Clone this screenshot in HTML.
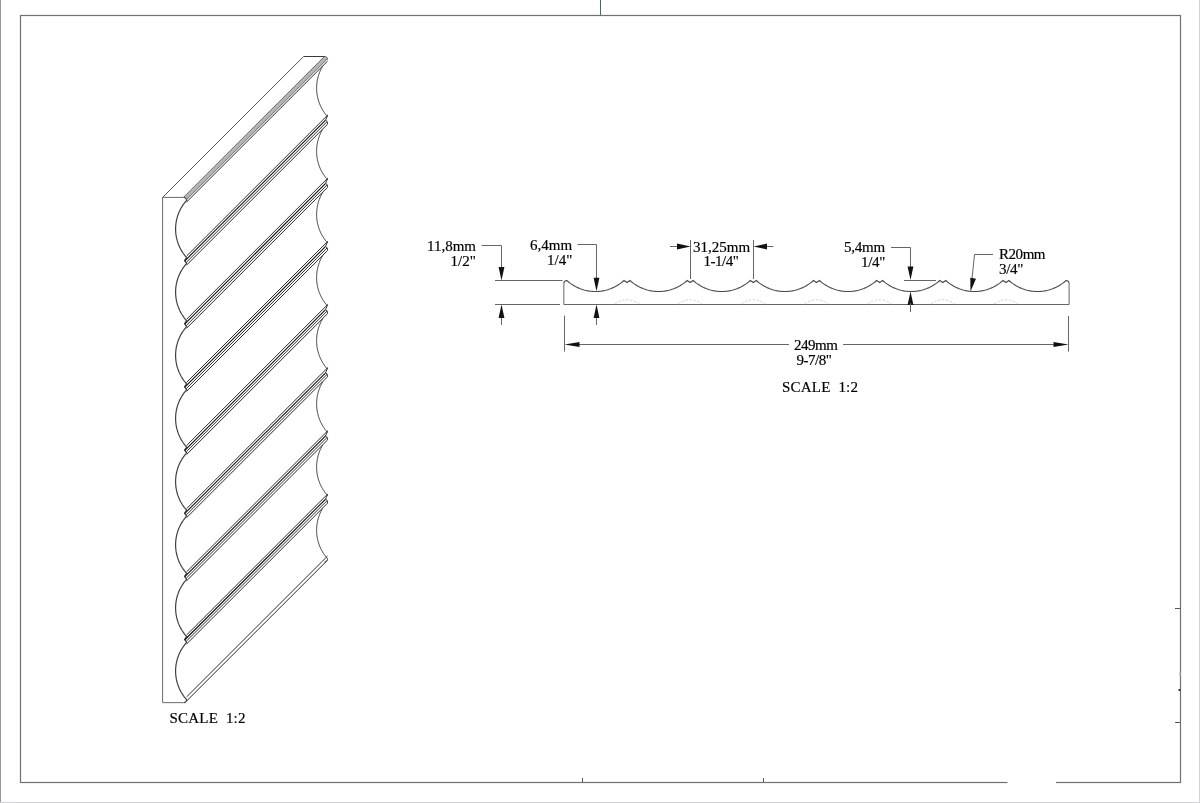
<!DOCTYPE html>
<html><head><meta charset="utf-8"><style>
html,body{margin:0;padding:0;background:#fff;}
body{width:1200px;height:803px;overflow:hidden;position:relative;}
svg{position:absolute;left:0;top:0;filter:grayscale(1);}
text{font-family:"Liberation Serif",serif;font-size:15px;fill:#000;stroke:#000;stroke-width:0.18px;}
</style></head><body>
<svg width="1200" height="803" viewBox="0 0 1200 803">
<rect x="0" y="0" width="1200" height="803" fill="#fff"/>
<rect x="20.5" y="15.5" width="1160" height="767" fill="none" stroke="#707070" stroke-width="1.2"/>
<line x1="582.5" y1="778" x2="582.5" y2="782" stroke="#555" stroke-width="1"/>
<line x1="763.5" y1="778" x2="763.5" y2="782" stroke="#555" stroke-width="1"/>
<line x1="1175" y1="608.5" x2="1180" y2="608.5" stroke="#555" stroke-width="1"/>
<line x1="1175" y1="722.5" x2="1180" y2="722.5" stroke="#555" stroke-width="1"/>
<rect x="1007.5" y="780" width="48.5" height="5" fill="#fff"/>
<rect x="1178.5" y="689" width="2" height="2" fill="#333"/>
<rect x="1179.5" y="672" width="1.2" height="4" fill="#aaa"/>
<polyline points="563.85,283.50 563.91,282.91 564.08,282.35 564.36,281.83 564.73,281.38 565.18,281.01 565.70,280.73 566.26,280.56 566.85,280.50 566.86,280.50 568.29,281.74 569.72,282.87 571.14,283.90 572.57,284.85 574.00,285.72 575.43,286.51 576.86,287.24 578.29,287.90 579.72,288.50 581.14,289.03 582.57,289.51 584.00,289.94 585.43,290.31 586.86,290.63 588.29,290.90 589.71,291.12 591.14,291.28 592.57,291.40 594.00,291.48 595.43,291.50 596.86,291.48 598.29,291.40 599.71,291.28 601.14,291.12 602.57,290.90 604.00,290.63 605.43,290.31 606.86,289.94 608.28,289.51 609.71,289.03 611.14,288.50 612.57,287.90 614.00,287.24 615.43,286.51 616.86,285.72 618.28,284.85 619.71,283.90 621.14,282.87 622.57,281.74 624.00,280.50 627.01,282.50 630.02,280.50 631.44,281.74 632.87,282.87 634.30,283.90 635.73,284.85 637.16,285.72 638.59,286.51 640.01,287.24 641.44,287.90 642.87,288.50 644.30,289.03 645.73,289.51 647.16,289.94 648.59,290.31 650.01,290.63 651.44,290.90 652.87,291.12 654.30,291.28 655.73,291.40 657.16,291.48 658.58,291.50 660.01,291.48 661.44,291.40 662.87,291.28 664.30,291.12 665.73,290.90 667.16,290.63 668.58,290.31 670.01,289.94 671.44,289.51 672.87,289.03 674.30,288.50 675.73,287.90 677.15,287.24 678.58,286.51 680.01,285.72 681.44,284.85 682.87,283.90 684.30,282.87 685.73,281.74 687.15,280.50 690.16,282.50 693.17,280.50 694.60,281.74 696.03,282.87 697.46,283.90 698.89,284.85 700.31,285.72 701.74,286.51 703.17,287.24 704.60,287.90 706.03,288.50 707.46,289.03 708.88,289.51 710.31,289.94 711.74,290.31 713.17,290.63 714.60,290.90 716.03,291.12 717.46,291.28 718.88,291.40 720.31,291.48 721.74,291.50 723.17,291.48 724.60,291.40 726.03,291.28 727.45,291.12 728.88,290.90 730.31,290.63 731.74,290.31 733.17,289.94 734.60,289.51 736.03,289.03 737.45,288.50 738.88,287.90 740.31,287.24 741.74,286.51 743.17,285.72 744.60,284.85 746.02,283.90 747.45,282.87 748.88,281.74 750.31,280.50 753.32,282.50 756.33,280.50 757.76,281.74 759.18,282.87 760.61,283.90 762.04,284.85 763.47,285.72 764.90,286.51 766.33,287.24 767.76,287.90 769.18,288.50 770.61,289.03 772.04,289.51 773.47,289.94 774.90,290.31 776.33,290.63 777.75,290.90 779.18,291.12 780.61,291.28 782.04,291.40 783.47,291.48 784.90,291.50 786.33,291.48 787.75,291.40 789.18,291.28 790.61,291.12 792.04,290.90 793.47,290.63 794.90,290.31 796.32,289.94 797.75,289.51 799.18,289.03 800.61,288.50 802.04,287.90 803.47,287.24 804.90,286.51 806.32,285.72 807.75,284.85 809.18,283.90 810.61,282.87 812.04,281.74 813.47,280.50 816.48,282.50 819.48,280.50 820.91,281.74 822.34,282.87 823.77,283.90 825.20,284.85 826.63,285.72 828.05,286.51 829.48,287.24 830.91,287.90 832.34,288.50 833.77,289.03 835.20,289.51 836.63,289.94 838.05,290.31 839.48,290.63 840.91,290.90 842.34,291.12 843.77,291.28 845.20,291.40 846.62,291.48 848.05,291.50 849.48,291.48 850.91,291.40 852.34,291.28 853.77,291.12 855.20,290.90 856.62,290.63 858.05,290.31 859.48,289.94 860.91,289.51 862.34,289.03 863.77,288.50 865.19,287.90 866.62,287.24 868.05,286.51 869.48,285.72 870.91,284.85 872.34,283.90 873.77,282.87 875.19,281.74 876.62,280.50 879.63,282.50 882.64,280.50 884.07,281.74 885.50,282.87 886.93,283.90 888.35,284.85 889.78,285.72 891.21,286.51 892.64,287.24 894.07,287.90 895.50,288.50 896.92,289.03 898.35,289.51 899.78,289.94 901.21,290.31 902.64,290.63 904.07,290.90 905.50,291.12 906.92,291.28 908.35,291.40 909.78,291.48 911.21,291.50 912.64,291.48 914.07,291.40 915.49,291.28 916.92,291.12 918.35,290.90 919.78,290.63 921.21,290.31 922.64,289.94 924.07,289.51 925.49,289.03 926.92,288.50 928.35,287.90 929.78,287.24 931.21,286.51 932.64,285.72 934.06,284.85 935.49,283.90 936.92,282.87 938.35,281.74 939.78,280.50 942.79,282.50 945.80,280.50 947.22,281.74 948.65,282.87 950.08,283.90 951.51,284.85 952.94,285.72 954.37,286.51 955.80,287.24 957.22,287.90 958.65,288.50 960.08,289.03 961.51,289.51 962.94,289.94 964.37,290.31 965.79,290.63 967.22,290.90 968.65,291.12 970.08,291.28 971.51,291.40 972.94,291.48 974.37,291.50 975.79,291.48 977.22,291.40 978.65,291.28 980.08,291.12 981.51,290.90 982.94,290.63 984.36,290.31 985.79,289.94 987.22,289.51 988.65,289.03 990.08,288.50 991.51,287.90 992.94,287.24 994.36,286.51 995.79,285.72 997.22,284.85 998.65,283.90 1000.08,282.87 1001.51,281.74 1002.93,280.50 1005.94,282.50 1008.95,280.50 1010.38,281.74 1011.81,282.87 1013.24,283.90 1014.67,284.85 1016.09,285.72 1017.52,286.51 1018.95,287.24 1020.38,287.90 1021.81,288.50 1023.24,289.03 1024.67,289.51 1026.09,289.94 1027.52,290.31 1028.95,290.63 1030.38,290.90 1031.81,291.12 1033.24,291.28 1034.66,291.40 1036.09,291.48 1037.52,291.50 1038.95,291.48 1040.38,291.40 1041.81,291.28 1043.24,291.12 1044.66,290.90 1046.09,290.63 1047.52,290.31 1048.95,289.94 1050.38,289.51 1051.81,289.03 1053.23,288.50 1054.66,287.90 1056.09,287.24 1057.52,286.51 1058.95,285.72 1060.38,284.85 1061.81,283.90 1063.23,282.87 1064.66,281.74 1066.09,280.50 1066.10,280.50 1066.69,280.56 1067.25,280.73 1067.77,281.01 1068.22,281.38 1068.59,281.83 1068.87,282.35 1069.04,282.91 1069.10,283.50" stroke="#4a4a4a" stroke-width="1.15" fill="none"/>
<polyline points="563.85,283.50 563.85,304.50 1069.10,304.50 1069.10,283.50" stroke="#666" stroke-width="1" fill="none"/>
<path d="M615.01,304.0 Q627.01,295.5 639.01,304.0" stroke="#d4d4d4" stroke-width="1" stroke-dasharray="2.5,1.5" fill="none"/>
<path d="M678.16,304.0 Q690.16,295.5 702.16,304.0" stroke="#d4d4d4" stroke-width="1" stroke-dasharray="2.5,1.5" fill="none"/>
<path d="M741.32,304.0 Q753.32,295.5 765.32,304.0" stroke="#d4d4d4" stroke-width="1" stroke-dasharray="2.5,1.5" fill="none"/>
<path d="M804.48,304.0 Q816.48,295.5 828.48,304.0" stroke="#d4d4d4" stroke-width="1" stroke-dasharray="2.5,1.5" fill="none"/>
<path d="M867.63,304.0 Q879.63,295.5 891.63,304.0" stroke="#d4d4d4" stroke-width="1" stroke-dasharray="2.5,1.5" fill="none"/>
<path d="M930.79,304.0 Q942.79,295.5 954.79,304.0" stroke="#d4d4d4" stroke-width="1" stroke-dasharray="2.5,1.5" fill="none"/>
<path d="M993.94,304.0 Q1005.94,295.5 1017.94,304.0" stroke="#d4d4d4" stroke-width="1" stroke-dasharray="2.5,1.5" fill="none"/>
<polyline points="183.60,197.40 184.19,197.46 184.75,197.63 185.27,197.91 185.72,198.28 186.09,198.73 186.37,199.25 186.54,199.81 186.60,200.40 186.60,200.41 185.36,201.84 184.23,203.27 183.20,204.69 182.25,206.12 181.38,207.55 180.59,208.98 179.86,210.41 179.20,211.84 178.60,213.27 178.07,214.69 177.59,216.12 177.16,217.55 176.79,218.98 176.47,220.41 176.20,221.84 175.98,223.26 175.82,224.69 175.70,226.12 175.62,227.55 175.60,228.98 175.62,230.41 175.70,231.84 175.82,233.26 175.98,234.69 176.20,236.12 176.47,237.55 176.79,238.98 177.16,240.41 177.59,241.83 178.07,243.26 178.60,244.69 179.20,246.12 179.86,247.55 180.59,248.98 181.38,250.41 182.25,251.83 183.20,253.26 184.23,254.69 185.36,256.12 186.60,257.55 184.60,260.56 186.60,263.57 185.36,264.99 184.23,266.42 183.20,267.85 182.25,269.28 181.38,270.71 180.59,272.14 179.86,273.56 179.20,274.99 178.60,276.42 178.07,277.85 177.59,279.28 177.16,280.71 176.79,282.14 176.47,283.56 176.20,284.99 175.98,286.42 175.82,287.85 175.70,289.28 175.62,290.71 175.60,292.13 175.62,293.56 175.70,294.99 175.82,296.42 175.98,297.85 176.20,299.28 176.47,300.71 176.79,302.13 177.16,303.56 177.59,304.99 178.07,306.42 178.60,307.85 179.20,309.28 179.86,310.70 180.59,312.13 181.38,313.56 182.25,314.99 183.20,316.42 184.23,317.85 185.36,319.28 186.60,320.70 184.60,323.71 186.60,326.72 185.36,328.15 184.23,329.58 183.20,331.01 182.25,332.44 181.38,333.86 180.59,335.29 179.86,336.72 179.20,338.15 178.60,339.58 178.07,341.01 177.59,342.43 177.16,343.86 176.79,345.29 176.47,346.72 176.20,348.15 175.98,349.58 175.82,351.01 175.70,352.43 175.62,353.86 175.60,355.29 175.62,356.72 175.70,358.15 175.82,359.58 175.98,361.00 176.20,362.43 176.47,363.86 176.79,365.29 177.16,366.72 177.59,368.15 178.07,369.58 178.60,371.00 179.20,372.43 179.86,373.86 180.59,375.29 181.38,376.72 182.25,378.15 183.20,379.57 184.23,381.00 185.36,382.43 186.60,383.86 184.60,386.87 186.60,389.88 185.36,391.31 184.23,392.73 183.20,394.16 182.25,395.59 181.38,397.02 180.59,398.45 179.86,399.88 179.20,401.31 178.60,402.73 178.07,404.16 177.59,405.59 177.16,407.02 176.79,408.45 176.47,409.88 176.20,411.30 175.98,412.73 175.82,414.16 175.70,415.59 175.62,417.02 175.60,418.45 175.62,419.88 175.70,421.30 175.82,422.73 175.98,424.16 176.20,425.59 176.47,427.02 176.79,428.45 177.16,429.87 177.59,431.30 178.07,432.73 178.60,434.16 179.20,435.59 179.86,437.02 180.59,438.45 181.38,439.87 182.25,441.30 183.20,442.73 184.23,444.16 185.36,445.59 186.60,447.02 184.60,450.02 186.60,453.03 185.36,454.46 184.23,455.89 183.20,457.32 182.25,458.75 181.38,460.18 180.59,461.60 179.86,463.03 179.20,464.46 178.60,465.89 178.07,467.32 177.59,468.75 177.16,470.18 176.79,471.60 176.47,473.03 176.20,474.46 175.98,475.89 175.82,477.32 175.70,478.75 175.62,480.17 175.60,481.60 175.62,483.03 175.70,484.46 175.82,485.89 175.98,487.32 176.20,488.75 176.47,490.17 176.79,491.60 177.16,493.03 177.59,494.46 178.07,495.89 178.60,497.32 179.20,498.74 179.86,500.17 180.59,501.60 181.38,503.03 182.25,504.46 183.20,505.89 184.23,507.32 185.36,508.74 186.60,510.17 184.60,513.18 186.60,516.19 185.36,517.62 184.23,519.05 183.20,520.48 182.25,521.90 181.38,523.33 180.59,524.76 179.86,526.19 179.20,527.62 178.60,529.05 178.07,530.47 177.59,531.90 177.16,533.33 176.79,534.76 176.47,536.19 176.20,537.62 175.98,539.05 175.82,540.47 175.70,541.90 175.62,543.33 175.60,544.76 175.62,546.19 175.70,547.62 175.82,549.04 175.98,550.47 176.20,551.90 176.47,553.33 176.79,554.76 177.16,556.19 177.59,557.62 178.07,559.04 178.60,560.47 179.20,561.90 179.86,563.33 180.59,564.76 181.38,566.19 182.25,567.61 183.20,569.04 184.23,570.47 185.36,571.90 186.60,573.33 184.60,576.34 186.60,579.35 185.36,580.77 184.23,582.20 183.20,583.63 182.25,585.06 181.38,586.49 180.59,587.92 179.86,589.35 179.20,590.77 178.60,592.20 178.07,593.63 177.59,595.06 177.16,596.49 176.79,597.92 176.47,599.34 176.20,600.77 175.98,602.20 175.82,603.63 175.70,605.06 175.62,606.49 175.60,607.92 175.62,609.34 175.70,610.77 175.82,612.20 175.98,613.63 176.20,615.06 176.47,616.49 176.79,617.91 177.16,619.34 177.59,620.77 178.07,622.20 178.60,623.63 179.20,625.06 179.86,626.49 180.59,627.91 181.38,629.34 182.25,630.77 183.20,632.20 184.23,633.63 185.36,635.06 186.60,636.48 184.60,639.49 186.60,642.50 185.36,643.93 184.23,645.36 183.20,646.79 182.25,648.22 181.38,649.64 180.59,651.07 179.86,652.50 179.20,653.93 178.60,655.36 178.07,656.79 177.59,658.22 177.16,659.64 176.79,661.07 176.47,662.50 176.20,663.93 175.98,665.36 175.82,666.79 175.70,668.21 175.62,669.64 175.60,671.07 175.62,672.50 175.70,673.93 175.82,675.36 175.98,676.79 176.20,678.21 176.47,679.64 176.79,681.07 177.16,682.50 177.59,683.93 178.07,685.36 178.60,686.78 179.20,688.21 179.86,689.64 180.59,691.07 181.38,692.50 182.25,693.93 183.20,695.36 184.23,696.78 185.36,698.21 186.60,699.64 186.60,699.65 186.54,700.24 186.37,700.80 186.09,701.32 185.72,701.77 185.27,702.14 184.75,702.42 184.19,702.59 183.60,702.65" stroke="#404040" stroke-width="1.2" fill="none"/>
<polyline points="183.60,197.40 162.60,197.40 162.60,702.65 183.60,702.65" stroke="#6a6a6a" stroke-width="1" fill="none"/>
<line x1="162.60" y1="197.40" x2="303.60" y2="56.50" stroke="#555" stroke-width="1" fill="none"/>
<polyline points="303.60,56.50 324.60,56.50 325.19,56.56 325.75,56.73 326.27,57.01 326.72,57.38 327.09,57.83 327.37,58.35 327.54,58.91 327.60,59.50" stroke="#383838" stroke-width="1" fill="none"/>
<line x1="183.40" y1="197.40" x2="324.40" y2="56.50" stroke="#505050" stroke-width="0.9" fill="none"/>
<line x1="184.23" y1="197.47" x2="325.23" y2="56.57" stroke="#7a7a7a" stroke-width="0.6" fill="none"/>
<line x1="184.89" y1="197.71" x2="325.89" y2="56.81" stroke="#7a7a7a" stroke-width="0.6" fill="none"/>
<line x1="185.45" y1="198.05" x2="326.45" y2="57.15" stroke="#7a7a7a" stroke-width="0.6" fill="none"/>
<line x1="185.90" y1="198.50" x2="326.90" y2="57.60" stroke="#7a7a7a" stroke-width="0.6" fill="none"/>
<line x1="186.26" y1="199.04" x2="327.26" y2="58.14" stroke="#7a7a7a" stroke-width="0.6" fill="none"/>
<line x1="186.51" y1="199.69" x2="327.51" y2="58.79" stroke="#505050" stroke-width="0.9" fill="none"/>
<line x1="186.60" y1="202.00" x2="327.60" y2="61.10" stroke="#2c2c2c" stroke-width="1" fill="none"/>
<line x1="186.60" y1="256.06" x2="327.60" y2="115.16" stroke="#2c2c2c" stroke-width="1" fill="none"/>
<line x1="184.60" y1="261.06" x2="325.60" y2="120.16" stroke="#111" stroke-width="1.1" fill="none"/>
<line x1="186.20" y1="262.46" x2="327.20" y2="121.56" stroke="#2c2c2c" stroke-width="1" fill="none"/>
<line x1="186.60" y1="265.06" x2="327.60" y2="124.16" stroke="#2c2c2c" stroke-width="1" fill="none"/>
<polyline points="327.60,115.16 325.60,120.16 327.20,121.56 327.60,124.16" stroke="#383838" stroke-width="1" fill="none"/>
<line x1="186.60" y1="319.21" x2="327.60" y2="178.31" stroke="#2c2c2c" stroke-width="1" fill="none"/>
<line x1="184.60" y1="324.21" x2="325.60" y2="183.31" stroke="#111" stroke-width="1.1" fill="none"/>
<line x1="186.20" y1="325.61" x2="327.20" y2="184.71" stroke="#2c2c2c" stroke-width="1" fill="none"/>
<line x1="186.60" y1="328.21" x2="327.60" y2="187.31" stroke="#2c2c2c" stroke-width="1" fill="none"/>
<polyline points="327.60,178.31 325.60,183.31 327.20,184.71 327.60,187.31" stroke="#383838" stroke-width="1" fill="none"/>
<line x1="186.60" y1="382.37" x2="327.60" y2="241.47" stroke="#2c2c2c" stroke-width="1" fill="none"/>
<line x1="184.60" y1="387.37" x2="325.60" y2="246.47" stroke="#111" stroke-width="1.1" fill="none"/>
<line x1="186.20" y1="388.77" x2="327.20" y2="247.87" stroke="#2c2c2c" stroke-width="1" fill="none"/>
<line x1="186.60" y1="391.37" x2="327.60" y2="250.47" stroke="#2c2c2c" stroke-width="1" fill="none"/>
<polyline points="327.60,241.47 325.60,246.47 327.20,247.87 327.60,250.47" stroke="#383838" stroke-width="1" fill="none"/>
<line x1="186.60" y1="445.52" x2="327.60" y2="304.62" stroke="#2c2c2c" stroke-width="1" fill="none"/>
<line x1="184.60" y1="450.52" x2="325.60" y2="309.62" stroke="#111" stroke-width="1.1" fill="none"/>
<line x1="186.20" y1="451.93" x2="327.20" y2="311.02" stroke="#2c2c2c" stroke-width="1" fill="none"/>
<line x1="186.60" y1="454.52" x2="327.60" y2="313.62" stroke="#2c2c2c" stroke-width="1" fill="none"/>
<polyline points="327.60,304.62 325.60,309.62 327.20,311.02 327.60,313.62" stroke="#383838" stroke-width="1" fill="none"/>
<line x1="186.60" y1="508.68" x2="327.60" y2="367.78" stroke="#2c2c2c" stroke-width="1" fill="none"/>
<line x1="184.60" y1="513.68" x2="325.60" y2="372.78" stroke="#111" stroke-width="1.1" fill="none"/>
<line x1="186.20" y1="515.08" x2="327.20" y2="374.18" stroke="#2c2c2c" stroke-width="1" fill="none"/>
<line x1="186.60" y1="517.68" x2="327.60" y2="376.78" stroke="#2c2c2c" stroke-width="1" fill="none"/>
<polyline points="327.60,367.78 325.60,372.78 327.20,374.18 327.60,376.78" stroke="#383838" stroke-width="1" fill="none"/>
<line x1="186.60" y1="571.84" x2="327.60" y2="430.94" stroke="#2c2c2c" stroke-width="1" fill="none"/>
<line x1="184.60" y1="576.84" x2="325.60" y2="435.94" stroke="#111" stroke-width="1.1" fill="none"/>
<line x1="186.20" y1="578.24" x2="327.20" y2="437.34" stroke="#2c2c2c" stroke-width="1" fill="none"/>
<line x1="186.60" y1="580.84" x2="327.60" y2="439.94" stroke="#2c2c2c" stroke-width="1" fill="none"/>
<polyline points="327.60,430.94 325.60,435.94 327.20,437.34 327.60,439.94" stroke="#383838" stroke-width="1" fill="none"/>
<line x1="186.60" y1="634.99" x2="327.60" y2="494.09" stroke="#2c2c2c" stroke-width="1" fill="none"/>
<line x1="184.60" y1="639.99" x2="325.60" y2="499.09" stroke="#111" stroke-width="1.1" fill="none"/>
<line x1="186.20" y1="641.39" x2="327.20" y2="500.49" stroke="#2c2c2c" stroke-width="1" fill="none"/>
<line x1="186.60" y1="643.99" x2="327.60" y2="503.09" stroke="#2c2c2c" stroke-width="1" fill="none"/>
<polyline points="327.60,494.09 325.60,499.09 327.20,500.49 327.60,503.09" stroke="#383838" stroke-width="1" fill="none"/>
<line x1="186.60" y1="696.90" x2="327.60" y2="556.00" stroke="#2c2c2c" stroke-width="1" fill="none"/>
<line x1="186.60" y1="701.00" x2="327.60" y2="560.10" stroke="#2c2c2c" stroke-width="1" fill="none"/>
<polyline points="322.81,65.94 322.38,66.65 321.97,67.37 321.59,68.08 321.21,68.79 320.86,69.51 320.52,70.22 320.20,70.94 319.89,71.65 319.60,72.37 319.33,73.08 319.07,73.79 318.82,74.51 318.59,75.22 318.37,75.94 318.16,76.65 317.97,77.36 317.79,78.08 317.62,78.79 317.47,79.51 317.33,80.22 317.20,80.94 317.09,81.65 316.98,82.36 316.89,83.08 316.82,83.79 316.75,84.51 316.70,85.22 316.65,85.94 316.62,86.65 316.61,87.36 316.60,88.08 316.61,88.79 316.62,89.51 316.65,90.22 316.70,90.94 316.75,91.65 316.82,92.36 316.89,93.08 316.98,93.79 317.09,94.51 317.20,95.22 317.33,95.93 317.47,96.65 317.62,97.36 317.79,98.08 317.97,98.79 318.16,99.51 318.37,100.22 318.59,100.93 318.82,101.65 319.07,102.36 319.33,103.08 319.60,103.79 319.89,104.51 320.20,105.22 320.52,105.93 320.86,106.65 321.21,107.36 321.59,108.08 321.97,108.79 322.38,109.51 322.81,110.22 323.25,110.93 323.71,111.65 324.20,112.36 324.71,113.08 325.23,113.79 325.79,114.50 326.36,115.22 326.97,115.93 327.60,116.65" stroke="#383838" stroke-width="1" fill="none"/>
<polyline points="322.81,129.09 322.38,129.81 321.97,130.52 321.59,131.24 321.21,131.95 320.86,132.66 320.52,133.38 320.20,134.09 319.89,134.81 319.60,135.52 319.33,136.24 319.07,136.95 318.82,137.66 318.59,138.38 318.37,139.09 318.16,139.81 317.97,140.52 317.79,141.24 317.62,141.95 317.47,142.66 317.33,143.38 317.20,144.09 317.09,144.81 316.98,145.52 316.89,146.23 316.82,146.95 316.75,147.66 316.70,148.38 316.65,149.09 316.62,149.81 316.61,150.52 316.60,151.23 316.61,151.95 316.62,152.66 316.65,153.38 316.70,154.09 316.75,154.81 316.82,155.52 316.89,156.23 316.98,156.95 317.09,157.66 317.20,158.38 317.33,159.09 317.47,159.81 317.62,160.52 317.79,161.23 317.97,161.95 318.16,162.66 318.37,163.38 318.59,164.09 318.82,164.80 319.07,165.52 319.33,166.23 319.60,166.95 319.89,167.66 320.20,168.38 320.52,169.09 320.86,169.80 321.21,170.52 321.59,171.23 321.97,171.95 322.38,172.66 322.81,173.38 323.25,174.09 323.71,174.80 324.20,175.52 324.71,176.23 325.23,176.95 325.79,177.66 326.36,178.38 326.97,179.09 327.60,179.80" stroke="#383838" stroke-width="1" fill="none"/>
<polyline points="322.81,192.25 322.38,192.96 321.97,193.68 321.59,194.39 321.21,195.11 320.86,195.82 320.52,196.53 320.20,197.25 319.89,197.96 319.60,198.68 319.33,199.39 319.07,200.11 318.82,200.82 318.59,201.53 318.37,202.25 318.16,202.96 317.97,203.68 317.79,204.39 317.62,205.11 317.47,205.82 317.33,206.53 317.20,207.25 317.09,207.96 316.98,208.68 316.89,209.39 316.82,210.11 316.75,210.82 316.70,211.53 316.65,212.25 316.62,212.96 316.61,213.68 316.60,214.39 316.61,215.10 316.62,215.82 316.65,216.53 316.70,217.25 316.75,217.96 316.82,218.68 316.89,219.39 316.98,220.10 317.09,220.82 317.20,221.53 317.33,222.25 317.47,222.96 317.62,223.68 317.79,224.39 317.97,225.10 318.16,225.82 318.37,226.53 318.59,227.25 318.82,227.96 319.07,228.68 319.33,229.39 319.60,230.10 319.89,230.82 320.20,231.53 320.52,232.25 320.86,232.96 321.21,233.67 321.59,234.39 321.97,235.10 322.38,235.82 322.81,236.53 323.25,237.25 323.71,237.96 324.20,238.67 324.71,239.39 325.23,240.10 325.79,240.82 326.36,241.53 326.97,242.25 327.60,242.96" stroke="#383838" stroke-width="1" fill="none"/>
<polyline points="322.81,255.41 322.38,256.12 321.97,256.83 321.59,257.55 321.21,258.26 320.86,258.98 320.52,259.69 320.20,260.41 319.89,261.12 319.60,261.83 319.33,262.55 319.07,263.26 318.82,263.98 318.59,264.69 318.37,265.40 318.16,266.12 317.97,266.83 317.79,267.55 317.62,268.26 317.47,268.98 317.33,269.69 317.20,270.40 317.09,271.12 316.98,271.83 316.89,272.55 316.82,273.26 316.75,273.98 316.70,274.69 316.65,275.40 316.62,276.12 316.61,276.83 316.60,277.55 316.61,278.26 316.62,278.98 316.65,279.69 316.70,280.40 316.75,281.12 316.82,281.83 316.89,282.55 316.98,283.26 317.09,283.97 317.20,284.69 317.33,285.40 317.47,286.12 317.62,286.83 317.79,287.55 317.97,288.26 318.16,288.97 318.37,289.69 318.59,290.40 318.82,291.12 319.07,291.83 319.33,292.55 319.60,293.26 319.89,293.97 320.20,294.69 320.52,295.40 320.86,296.12 321.21,296.83 321.59,297.55 321.97,298.26 322.38,298.97 322.81,299.69 323.25,300.40 323.71,301.12 324.20,301.83 324.71,302.54 325.23,303.26 325.79,303.97 326.36,304.69 326.97,305.40 327.60,306.12" stroke="#383838" stroke-width="1" fill="none"/>
<polyline points="322.81,318.56 322.38,319.28 321.97,319.99 321.59,320.70 321.21,321.42 320.86,322.13 320.52,322.85 320.20,323.56 319.89,324.28 319.60,324.99 319.33,325.70 319.07,326.42 318.82,327.13 318.59,327.85 318.37,328.56 318.16,329.28 317.97,329.99 317.79,330.70 317.62,331.42 317.47,332.13 317.33,332.85 317.20,333.56 317.09,334.28 316.98,334.99 316.89,335.70 316.82,336.42 316.75,337.13 316.70,337.85 316.65,338.56 316.62,339.27 316.61,339.99 316.60,340.70 316.61,341.42 316.62,342.13 316.65,342.85 316.70,343.56 316.75,344.27 316.82,344.99 316.89,345.70 316.98,346.42 317.09,347.13 317.20,347.85 317.33,348.56 317.47,349.27 317.62,349.99 317.79,350.70 317.97,351.42 318.16,352.13 318.37,352.85 318.59,353.56 318.82,354.27 319.07,354.99 319.33,355.70 319.60,356.42 319.89,357.13 320.20,357.84 320.52,358.56 320.86,359.27 321.21,359.99 321.59,360.70 321.97,361.42 322.38,362.13 322.81,362.84 323.25,363.56 323.71,364.27 324.20,364.99 324.71,365.70 325.23,366.42 325.79,367.13 326.36,367.84 326.97,368.56 327.60,369.27" stroke="#383838" stroke-width="1" fill="none"/>
<polyline points="322.81,381.72 322.38,382.43 321.97,383.15 321.59,383.86 321.21,384.58 320.86,385.29 320.52,386.00 320.20,386.72 319.89,387.43 319.60,388.15 319.33,388.86 319.07,389.57 318.82,390.29 318.59,391.00 318.37,391.72 318.16,392.43 317.97,393.15 317.79,393.86 317.62,394.57 317.47,395.29 317.33,396.00 317.20,396.72 317.09,397.43 316.98,398.15 316.89,398.86 316.82,399.57 316.75,400.29 316.70,401.00 316.65,401.72 316.62,402.43 316.61,403.15 316.60,403.86 316.61,404.57 316.62,405.29 316.65,406.00 316.70,406.72 316.75,407.43 316.82,408.14 316.89,408.86 316.98,409.57 317.09,410.29 317.20,411.00 317.33,411.72 317.47,412.43 317.62,413.14 317.79,413.86 317.97,414.57 318.16,415.29 318.37,416.00 318.59,416.72 318.82,417.43 319.07,418.14 319.33,418.86 319.60,419.57 319.89,420.29 320.20,421.00 320.52,421.72 320.86,422.43 321.21,423.14 321.59,423.86 321.97,424.57 322.38,425.29 322.81,426.00 323.25,426.71 323.71,427.43 324.20,428.14 324.71,428.86 325.23,429.57 325.79,430.29 326.36,431.00 326.97,431.71 327.60,432.43" stroke="#383838" stroke-width="1" fill="none"/>
<polyline points="322.81,444.87 322.38,445.59 321.97,446.30 321.59,447.02 321.21,447.73 320.86,448.45 320.52,449.16 320.20,449.87 319.89,450.59 319.60,451.30 319.33,452.02 319.07,452.73 318.82,453.45 318.59,454.16 318.37,454.87 318.16,455.59 317.97,456.30 317.79,457.02 317.62,457.73 317.47,458.44 317.33,459.16 317.20,459.87 317.09,460.59 316.98,461.30 316.89,462.02 316.82,462.73 316.75,463.44 316.70,464.16 316.65,464.87 316.62,465.59 316.61,466.30 316.60,467.02 316.61,467.73 316.62,468.44 316.65,469.16 316.70,469.87 316.75,470.59 316.82,471.30 316.89,472.02 316.98,472.73 317.09,473.44 317.20,474.16 317.33,474.87 317.47,475.59 317.62,476.30 317.79,477.01 317.97,477.73 318.16,478.44 318.37,479.16 318.59,479.87 318.82,480.59 319.07,481.30 319.33,482.01 319.60,482.73 319.89,483.44 320.20,484.16 320.52,484.87 320.86,485.59 321.21,486.30 321.59,487.01 321.97,487.73 322.38,488.44 322.81,489.16 323.25,489.87 323.71,490.59 324.20,491.30 324.71,492.01 325.23,492.73 325.79,493.44 326.36,494.16 326.97,494.87 327.60,495.58" stroke="#383838" stroke-width="1" fill="none"/>
<polyline points="322.81,508.03 322.38,508.74 321.97,509.46 321.59,510.17 321.21,510.89 320.86,511.60 320.52,512.32 320.20,513.03 319.89,513.74 319.60,514.46 319.33,515.17 319.07,515.89 318.82,516.60 318.59,517.32 318.37,518.03 318.16,518.74 317.97,519.46 317.79,520.17 317.62,520.89 317.47,521.60 317.33,522.32 317.20,523.03 317.09,523.74 316.98,524.46 316.89,525.17 316.82,525.89 316.75,526.60 316.70,527.31 316.65,528.03 316.62,528.74 316.61,529.46 316.60,530.17 316.61,530.89 316.62,531.60 316.65,532.31 316.70,533.03 316.75,533.74 316.82,534.46 316.89,535.17 316.98,535.89 317.09,536.60 317.20,537.31 317.33,538.03 317.47,538.74 317.62,539.46 317.79,540.17 317.97,540.89 318.16,541.60 318.37,542.31 318.59,543.03 318.82,543.74 319.07,544.46 319.33,545.17 319.60,545.88 319.89,546.60 320.20,547.31 320.52,548.03 320.86,548.74 321.21,549.46 321.59,550.17 321.97,550.88 322.38,551.60 322.81,552.31 323.25,553.03 323.71,553.74 324.20,554.46 324.71,555.17 325.23,555.88 325.79,556.60 326.36,557.31 326.97,558.03 327.60,558.74 327.60,558.75 327.54,559.34 327.37,559.90 327.09,560.42 326.72,560.87 326.27,561.24 325.75,561.52 325.19,561.69 324.60,561.75" stroke="#383838" stroke-width="1" fill="none"/>
<polyline points="481.5,245.5 501.5,245.5 501.5,268" stroke="#666" stroke-width="1" fill="none"/>
<polygon points="501.50,280.50 498.60,267.00 504.40,267.00" fill="#111" stroke="none"/>
<line x1="495" y1="280.5" x2="562.5" y2="280.5" stroke="#666" stroke-width="1" fill="none"/>
<line x1="495" y1="304.5" x2="560" y2="304.5" stroke="#666" stroke-width="1" fill="none"/>
<line x1="501.5" y1="317" x2="501.5" y2="325" stroke="#666" stroke-width="1" fill="none"/>
<polygon points="501.50,304.50 504.40,318.00 498.60,318.00" fill="#111" stroke="none"/>
<polyline points="577.5,244.5 596.5,244.5 596.5,279" stroke="#666" stroke-width="1" fill="none"/>
<polygon points="596.50,291.30 593.60,277.80 599.40,277.80" fill="#111" stroke="none"/>
<line x1="596.5" y1="317" x2="596.5" y2="325" stroke="#666" stroke-width="1" fill="none"/>
<polygon points="596.50,304.50 599.40,318.00 593.60,318.00" fill="#111" stroke="none"/>
<line x1="690.5" y1="240" x2="690.5" y2="279" stroke="#666" stroke-width="1" fill="none"/>
<line x1="753.5" y1="240" x2="753.5" y2="279" stroke="#666" stroke-width="1" fill="none"/>
<line x1="670" y1="246.5" x2="679" y2="246.5" stroke="#666" stroke-width="1" fill="none"/>
<polygon points="690.50,246.50 677.00,249.40 677.00,243.60" fill="#111" stroke="none"/>
<line x1="765" y1="246.5" x2="773.5" y2="246.5" stroke="#666" stroke-width="1" fill="none"/>
<polygon points="753.50,246.50 767.00,243.60 767.00,249.40" fill="#111" stroke="none"/>
<polyline points="891,247.5 910.5,247.5 910.5,268" stroke="#666" stroke-width="1" fill="none"/>
<polygon points="910.50,280.00 907.60,266.50 913.40,266.50" fill="#111" stroke="none"/>
<line x1="904" y1="280.5" x2="936" y2="280.5" stroke="#666" stroke-width="1" fill="none"/>
<polygon points="910.50,291.50 913.40,305.00 907.60,305.00" fill="#111" stroke="none"/>
<line x1="910.5" y1="303" x2="910.5" y2="312" stroke="#666" stroke-width="1" fill="none"/>
<polyline points="993,254.5 974.5,254.5 972,279" stroke="#666" stroke-width="1" fill="none"/>
<polygon points="970.50,291.50 970.30,277.69 975.99,278.83" fill="#111" stroke="none"/>
<line x1="564.5" y1="315.5" x2="564.5" y2="351.5" stroke="#666" stroke-width="1" fill="none"/>
<line x1="1068.5" y1="316" x2="1068.5" y2="351.5" stroke="#666" stroke-width="1" fill="none"/>
<line x1="576" y1="344.5" x2="789" y2="344.5" stroke="#666" stroke-width="1" fill="none"/>
<line x1="843" y1="344.5" x2="1057" y2="344.5" stroke="#666" stroke-width="1" fill="none"/>
<polygon points="564.50,344.50 579.50,341.90 579.50,347.10" fill="#111" stroke="none"/>
<polygon points="1068.50,344.50 1053.50,347.10 1053.50,341.90" fill="#111" stroke="none"/>
<text x="427" y="251" xml:space="preserve" style="letter-spacing:0px">11,8mm</text>
<text x="450.5" y="266" xml:space="preserve" style="letter-spacing:0px">1/2&quot;</text>
<text x="530" y="250" xml:space="preserve" style="letter-spacing:0px">6,4mm</text>
<text x="547" y="265" xml:space="preserve" style="letter-spacing:0px">1/4&quot;</text>
<text x="693" y="252" xml:space="preserve" style="letter-spacing:0px">31,25mm</text>
<text x="703.5" y="266" xml:space="preserve" style="letter-spacing:-0.5px">1-1/4&quot;</text>
<text x="844" y="252" xml:space="preserve" style="letter-spacing:-0.25px">5,4mm</text>
<text x="861" y="267" xml:space="preserve" style="letter-spacing:-0.3px">1/4&quot;</text>
<text x="999" y="259" xml:space="preserve" style="letter-spacing:-0.45px">R20mm</text>
<text x="999" y="274" xml:space="preserve" style="letter-spacing:-0.3px">3/4&quot;</text>
<text x="794" y="350" xml:space="preserve" style="letter-spacing:-0.5px">249mm</text>
<text x="796.5" y="365" xml:space="preserve" style="letter-spacing:-0.5px">9-7/8&quot;</text>
<text x="782" y="391.5" xml:space="preserve" style="letter-spacing:0.2px">SCALE  1:2</text>
<text x="169.5" y="722.5" xml:space="preserve" style="letter-spacing:0.2px">SCALE  1:2</text>
</svg>
<div style="position:absolute;left:0;top:0;width:1px;height:803px;background:#9896a6"></div>
<div style="position:absolute;left:1199px;top:0;width:1px;height:803px;background:#d2d2d6"></div>
<div style="position:absolute;left:0;top:802px;width:1200px;height:1px;background:#d2d2d6"></div>
<div style="position:absolute;left:600px;top:0;width:1px;height:15px;background:#4a6868"></div>
</body></html>
